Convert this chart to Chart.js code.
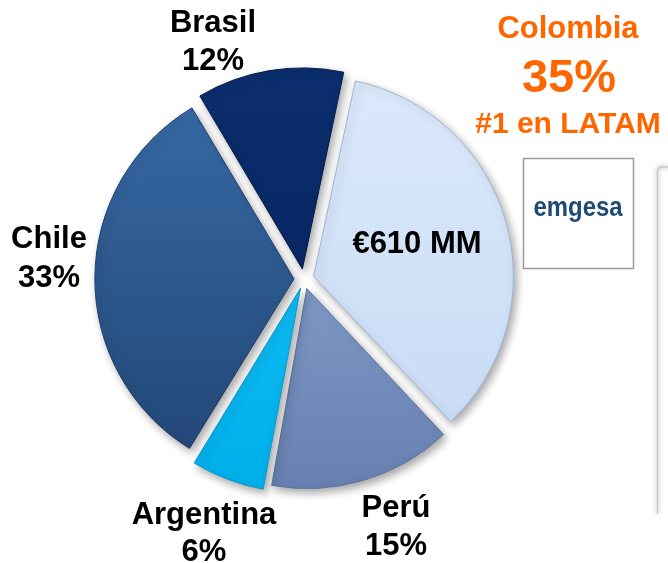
<!DOCTYPE html>
<html><head><meta charset="utf-8">
<script src="https://cdn.jsdelivr.net/npm/chart.js@4.4.1/dist/chart.umd.min.js"></script>
<style>html,body{margin:0;padding:0;background:#fff;}#wrap{position:relative;width:668px;height:563px;}</style>
</head><body><div id="wrap"><canvas id="c"></canvas></div>
<script>
// ---- data ----
const categories = ['Colombia', 'Perú', 'Argentina', 'Chile', 'Brasil'];
const shares = [35, 15, 6, 33, 12];
const highlightTitle = 'Colombia';
const highlightShare = '35%';
const highlightRank = '#1 en LATAM';
const colombiaAmount = '€610 MM';
const logoText = 'emgesa';

// ---- styles ----
const gradStops = {
  'Colombia': ['#dbe9fb', '#c6daf4'],
  'Perú': ['#96b0db', '#6780b0'],
  'Argentina': ['#1ac8fb', '#00aeea'],
  'Chile': ['#386ba7', '#224574'],
  'Brasil': ['#0c2e6e', '#05205a']
};
const edgeColors = {
  'Colombia': '#9fb6d6', 'Perú': '#5b73a0', 'Argentina': '#0b98cc',
  'Chile': '#1d3e69', 'Brasil': '#041a48'
};
const ORANGE = '#ff6600';
const FONT = '"Liberation Sans", Arial, sans-serif';

// label placement relative to the pie centre (text only)
const labelLayout = {
  'Brasil': { dx: -91, dy: [-247, -209] },
  'Chile': { dx: -255, dy: [-31, 8] },
  'Argentina': { dx: -100, dy: [245, 282] },
  'Perú': { dx: 92, dy: [238, 276] }
};

function sliceFill(ctx) {
  const chart = ctx.chart;
  const name = categories[ctx.dataIndex];
  const area = chart.chartArea;
  if (!area) return gradStops[name][0];
  const cy = (area.top + area.bottom) / 2;
  const g = chart.ctx.createLinearGradient(0, cy - 200, 0, cy + 200);
  g.addColorStop(0, gradStops[name][0]);
  g.addColorStop(1, gradStops[name][1]);
  return g;
}

const shadowPlugin = {
  id: 'shadow',
  beforeDatasetsDraw(chart) {
    const c = chart.ctx;
    c.save();
    c.shadowColor = 'rgba(0,0,0,0.35)';
    c.shadowBlur = 8;
    c.shadowOffsetX = 3;
    c.shadowOffsetY = 4;
  },
  afterDatasetsDraw(chart) {
    chart.ctx.restore();
  }
};

const textPlugin = {
  id: 'texts',
  afterDraw(chart) {
    const c = chart.ctx;
    const arc0 = chart.getDatasetMeta(0).data[0];
    const cx = arc0.x, cy = arc0.y;
    c.save();
    c.textAlign = 'center';
    c.textBaseline = 'alphabetic';
    // black country labels
    c.fillStyle = '#000';
    c.font = 'bold 31px ' + FONT;
    categories.forEach((name, i) => {
      const L = labelLayout[name];
      if (!L) return;
      c.fillText(name, cx + L.dx, cy + L.dy[0]);
      c.fillText(shares[i] + '%', cx + L.dx, cy + L.dy[1]);
    });
    // amount inside Colombia slice
    c.fillText(colombiaAmount, cx + 113, cy - 26);
    // orange highlight
    c.fillStyle = ORANGE;
    c.font = 'bold 31px ' + FONT;
    c.fillText(highlightTitle, cx + 264, cy - 241);
    c.font = 'bold 47px ' + FONT;
    c.fillText(highlightShare, cx + 265, cy - 187);
    c.font = 'bold 30px ' + FONT;
    c.fillText(highlightRank, cx + 264, cy - 146);
    // logo box
    c.fillStyle = '#fff';
    c.fillRect(cx + 219.5, cy - 120.5, 110, 110);
    c.strokeStyle = '#9a9a9a';
    c.lineWidth = 1.5;
    c.strokeRect(cx + 219.5, cy - 120.5, 110, 110);
    c.fillStyle = '#1f4a75';
    c.font = 'bold 28px ' + FONT;
    c.fillText(logoText, cx + 274, cy - 63, 89);
    // edge of neighbouring panel (right border)
    c.save();
    c.shadowColor = 'rgba(0,0,0,0.35)';
    c.shadowBlur = 5;
    c.strokeStyle = '#c8c8c8';
    c.lineWidth = 1.5;
    c.beginPath();
    c.moveTo(cx + 353.5, cy + 235);
    c.lineTo(cx + 353.5, cy - 108);
    c.quadraticCurveTo(cx + 353.5, cy - 112, cx + 358, cy - 112);
    c.lineTo(cx + 380, cy - 112);
    c.stroke();
    c.restore();
    c.restore();
  }
};

new Chart(document.getElementById('c'), {
  type: 'pie',
  data: {
    labels: categories,
    datasets: [{
      data: shares,
      backgroundColor: sliceFill,
      borderColor: categories.map(n => edgeColors[n]),
      borderWidth: 1,
      offset: 40,
      hoverOffset: 0
    }]
  },
  options: {
    responsive: true,
    maintainAspectRatio: false,
    animation: false,
    events: [],
    rotation: 12,
    radius: 198,
    layout: { padding: { left: 0, right: 60, top: 0, bottom: 5 } },
    plugins: {
      legend: { display: false },
      tooltip: { enabled: false },
      title: { display: false }
    }
  },
  plugins: [shadowPlugin, textPlugin]
});
</script>
</body></html>
